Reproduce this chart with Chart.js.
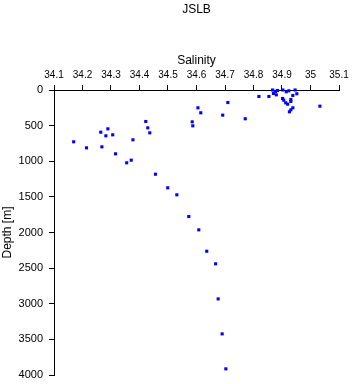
<!DOCTYPE html>
<html>
<head>
<meta charset="utf-8">
<script src="https://cdn.jsdelivr.net/npm/chart.js@4/dist/chart.umd.min.js"></script>
<style>
  html, body { margin: 0; padding: 0; background: #fff; }
  canvas { display: block; }
</style>
</head>
<body>
<canvas id="c" width="353" height="384"></canvas>
<script>
const titleText = "JSLB";
const xAxisLabel = "Salinity";
const yAxisLabel = "Depth [m]";
const xTicks = [34.1, 34.2, 34.3, 34.4, 34.5, 34.6, 34.7, 34.8, 34.9, 35.0, 35.1];
const yTicks = [0, 500, 1000, 1500, 2000, 2500, 3000, 3500, 4000];

const salinity = [
  34.169, 34.214, 34.264, 34.268, 34.282, 34.289, 34.306, 34.316, 34.355, 34.371,
  34.377, 34.422, 34.429, 34.436, 34.456, 34.499, 34.531, 34.573, 34.585, 34.587,
  34.605, 34.615, 34.692, 34.710, 34.771, 34.819, 34.854, 34.867, 34.870, 34.877,
  34.880, 34.884, 34.903, 34.902, 34.906, 34.915, 34.924, 34.913, 34.920, 34.931,
  34.931, 34.938, 34.946, 34.952, 34.938, 34.931, 34.926, 35.033, 34.608, 34.636,
  34.667, 34.676, 34.690, 34.703
];
const depth = [
  727, 812, 592, 798, 643, 545, 629, 896, 1022, 985,
  699, 442, 531, 601, 1182, 1373, 1471, 1776, 447, 503,
  250, 320, 353, 176, 404, 91, 91, 0, 49, 21,
  68, 7, 0, 119, 143, 25, 11, 180, 199, 133,
  161, 77, 0, 53, 250, 278, 306, 227, 1963, 2263,
  2440, 2932, 3423, 3914
];

const points = salinity.map((s, i) => ({ x: s, y: depth[i] }));
const fontFam = "'Liberation Sans', Arial, Helvetica, sans-serif";

new Chart(document.getElementById('c'), {
  type: 'scatter',
  data: {
    datasets: [{
      data: points,
      pointStyle: 'rect',
      pointRadius: 2.2,
      pointHoverRadius: 2.2,
      pointBorderWidth: 0,
      backgroundColor: '#0000ff',
      borderColor: '#0000ff',
      clip: false
    }]
  },
  options: {
    responsive: false,
    animation: false,
    devicePixelRatio: 1,
    events: [],
    layout: { padding: { left: 0, right: 14, top: 0, bottom: 9 } },
    plugins: {
      legend: { display: false },
      tooltip: { enabled: false },
      title: {
        display: true,
        text: titleText,
        fullSize: false,
        color: '#000',
        font: { family: fontFam, size: 12, weight: 'normal' },
        padding: { top: 2, bottom: 0 }
      }
    },
    scales: {
      x: {
        type: 'linear',
        position: 'top',
        min: 34.1,
        max: 35.1,
        afterBuildTicks: (scale) => { scale.ticks = xTicks.map(v => ({ value: v })); },
        afterFit: (scale) => {
          scale.height = 73.6;
          scale.paddingLeft = 0; scale.paddingRight = 0;
          scale.paddingTop = 0; scale.paddingBottom = 0;
        },
        ticks: {
          color: '#000',
          padding: 4,
          maxRotation: 0,
          autoSkip: false,
          font: { family: fontFam, size: 10 },
          callback: (v) => String(+Number(v).toFixed(1))
        },
        grid: { drawOnChartArea: false, drawTicks: true, tickLength: 5, color: '#000', lineWidth: 1 },
        border: { display: true, color: '#000', width: 1 },
        title: {
          display: true,
          text: xAxisLabel,
          color: '#000',
          font: { family: fontFam, size: 12 },
          padding: { top: 37.4, bottom: 0 }
        }
      },
      y: {
        type: 'linear',
        position: 'left',
        reverse: true,
        min: 0,
        max: 4000,
        afterBuildTicks: (scale) => { scale.ticks = yTicks.map(v => ({ value: v })); },
        afterFit: (scale) => {
          scale.width = 54;
          scale.paddingLeft = 0; scale.paddingRight = 0;
          scale.paddingTop = 0; scale.paddingBottom = 0;
        },
        ticks: {
          color: '#000',
          padding: 6,
          autoSkip: false,
          font: { family: fontFam, size: 11 },
          callback: (v) => String(v)
        },
        grid: { drawOnChartArea: false, drawTicks: true, tickLength: 5, color: '#000', lineWidth: 1 },
        border: { display: true, color: '#000', width: 1 },
        title: {
          display: true,
          text: yAxisLabel,
          color: '#000',
          font: { family: fontFam, size: 12 },
          padding: { top: 0, bottom: 0 }
        }
      }
    }
  }
});
</script>
</body>
</html>
